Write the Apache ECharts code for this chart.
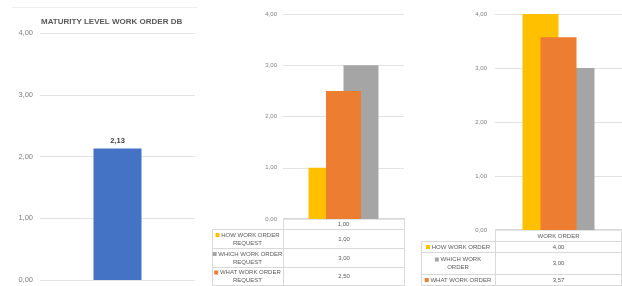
<!DOCTYPE html>
<html>
<head>
<meta charset="utf-8">
<script src="https://cdn.jsdelivr.net/npm/echarts@6/dist/echarts.min.js"></script>
<style>
	html, body { margin: 0; padding: 0; background: #fff; }
	#chart { width: 622px; height: 286px; }
</style>
</head>
<body>
<div id="chart"></div>
<script>
	// chart 1
	const dbTitle = 'MATURITY LEVEL WORK ORDER DB'
	const dbCategory = ['DB']
	const dbValues = [2.13]
	// chart 2
	const reqCategory = ['1,00']
	const reqNames = ['HOW WORK ORDER\nREQUEST', 'WHICH WORK ORDER\nREQUEST', 'WHAT WORK ORDER\nREQUEST']
	const reqValues = [1.0, 3.0, 2.5]
	// chart 3
	const woCategory = ['WORK ORDER']
	const woNames = ['HOW WORK ORDER', 'WHICH WORK\nORDER', 'WHAT WORK ORDER']
	const woValues = [4.0, 3.0, 3.57]
	// y axis ticks shared by all three
	const yMin = 0
	const yMax = 4
	const yStep = 1

	const rowColors = ['#FFC000', '#A5A5A5', '#ED7D31']
	const barOrder = [0, 2, 1] // yellow, orange, gray from left to right
	const fmt = (v) => v.toFixed(2).replace('.', ',')
	const FONT = 'Liberation Sans'
	const lineColor = '#d9d9d9'

	const grids = [
		{ left: 40, right: 427, top: 33, bottom: 6 },
		{ left: 283, right: 218, top: 14, bottom: 67 },
		{ left: 495, right: 0, top: 14, bottom: 56 }
	]

	const yAxis = grids.map((g, i) => ({
		type: 'value',
		gridIndex: i,
		min: yMin,
		max: yMax,
		interval: yStep,
		axisLine: { show: false },
		axisTick: { show: false },
		axisLabel: {
			color: '#7f7f7f',
			fontFamily: FONT,
			fontSize: i === 0 ? 7.5 : 6,
			margin: i === 0 ? 7 : i === 1 ? 6 : 8,
			formatter: (v) => fmt(v)
		},
		splitLine: { lineStyle: { color: '#e3e3e3', width: 1 } }
	}))

	const xAxis = [
		{ type: 'category', gridIndex: 0, data: dbCategory, axisLine: { show: false }, axisTick: { show: false }, axisLabel: { show: false } },
		{ type: 'category', gridIndex: 1, data: reqCategory, axisLine: { show: false }, axisTick: { show: false },
			axisLabel: { color: '#595959', fontFamily: FONT, fontSize: 6, margin: 2 } },
		{ type: 'category', gridIndex: 2, data: woCategory, axisLine: { show: false }, axisTick: { show: false },
			axisLabel: { color: '#595959', fontFamily: FONT, fontSize: 6, margin: 3 } }
	]

	const series = [
		{
			type: 'bar',
			xAxisIndex: 0,
			yAxisIndex: 0,
			data: dbValues,
			barWidth: 48,
			itemStyle: { color: '#4472C4' },
			label: {
				show: true,
				position: 'top',
				distance: 4,
				color: '#404040',
				fontFamily: FONT,
				fontWeight: 'bold',
				fontSize: 7.5,
				formatter: (p) => fmt(p.value)
			}
		}
	]

	const addGroup = (axisIdx, values, width) => {
		barOrder.forEach((k) => {
			series.push({
				type: 'bar',
				xAxisIndex: axisIdx,
				yAxisIndex: axisIdx,
				data: [values[k]],
				barWidth: width,
				barGap: '-50%',
				z: k === 2 ? 4 : 2, // orange on top
				itemStyle: { color: rowColors[k] }
			})
		})
	}
	addGroup(1, reqValues, 35)
	addGroup(2, woValues, 36)

	// data tables under charts 2 and 3
	const graphic = []
	const hline = (x1, x2, y, c) => graphic.push({ type: 'line', shape: { x1, y1: y, x2, y2: y }, style: { stroke: c || lineColor, lineWidth: 1 }, silent: true })
	const vline = (x, y1, y2) => graphic.push({ type: 'line', shape: { x1: x, y1, x2: x, y2 }, style: { stroke: lineColor, lineWidth: 1 }, silent: true })

	const buildTable = (x0, xs, x1, rows, names, values) => {
		// rows: [headerTop, headerBottom, row1Bottom, row2Bottom, row3Bottom]
		hline(xs, x1, rows[0] + 0.5)
		for (let r = 1; r < rows.length; r++) hline(x0, x1, rows[r] + 0.5)
		vline(x0 + 0.5, rows[1], rows[rows.length - 1])
		vline(xs + 0.5, rows[0], rows[rows.length - 1])
		vline(x1 - 0.5, rows[0], rows[rows.length - 1])
		names.forEach((name, r) => {
			const yc = (rows[r + 1] + rows[r + 2]) / 2 + 0.5
			graphic.push({
				type: 'text',
				x: (x0 + xs) / 2,
				y: yc,
				silent: true,
				style: {
					text: '{m|} ' + name,
					align: 'center',
					verticalAlign: 'middle',
					fill: '#595959',
					font: '6px "' + FONT + '"',
					lineHeight: 8,
					rich: {
						m: { width: 4, height: 4, backgroundColor: rowColors[r] }
					}
				}
			})
			graphic.push({
				type: 'text',
				x: (xs + x1) / 2,
				y: yc,
				silent: true,
				style: {
					text: fmt(values[r]),
					align: 'center',
					verticalAlign: 'middle',
					fill: '#595959',
					font: '6px "' + FONT + '"'
				}
			})
		})
	}
	buildTable(212, 283, 405, [218, 229, 248, 267, 285], reqNames, reqValues)
	buildTable(421, 495, 622, [229, 241, 252, 274, 285], woNames, woValues)

	// faint frame line above chart 1
	hline(12, 198, 7.5, '#eeeeee')

	const option = {
		animation: false,
		title: {
			text: dbTitle,
			left: 36,
			top: 13,
			textStyle: { color: '#595959', fontFamily: FONT, fontWeight: 'bold', fontSize: 8 }
		},
		grid: grids,
		xAxis,
		yAxis,
		series,
		graphic
	}

	const myChart = echarts.init(document.getElementById('chart'))
	myChart.setOption(option)
</script>
</body>
</html>
